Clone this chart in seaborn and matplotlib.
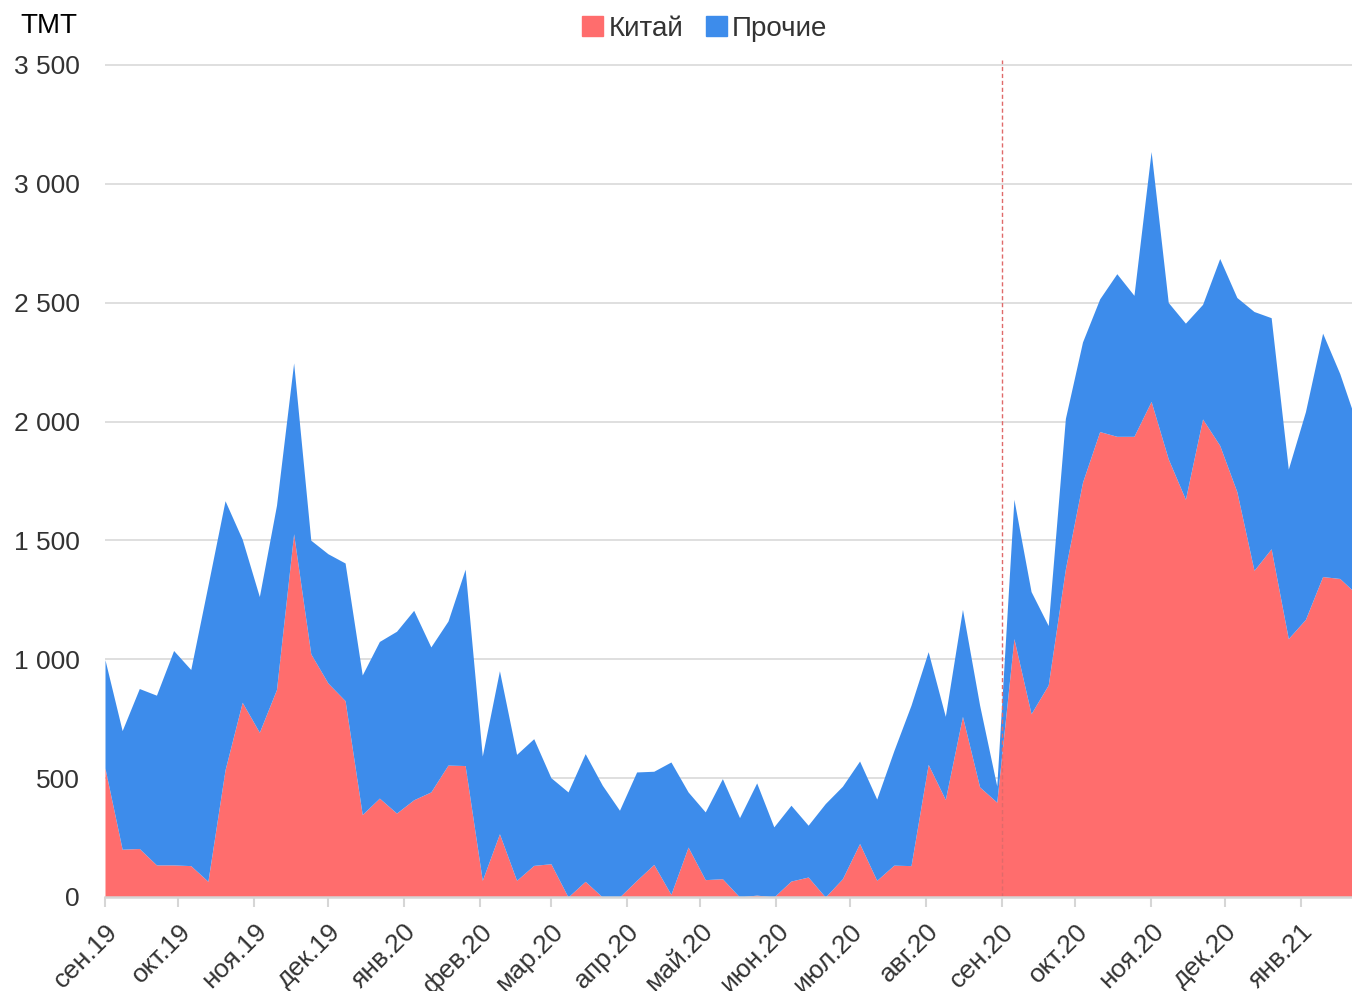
import matplotlib
matplotlib.use("Agg")
import matplotlib.pyplot as plt
from matplotlib.patches import Patch
from matplotlib.ticker import FuncFormatter
import seaborn as sns
import numpy as np
import pandas as pd

# weekly totals, thousand tonnes
total = [998, 700, 877, 849, 1037, 957, 1310, 1667, 1505, 1264,
         1648, 2247, 1501, 1444, 1405, 934, 1075, 1118, 1206, 1052,
         1161, 1379, 593, 952, 600, 666, 502, 442, 603, 470,
         365, 526, 529, 568, 442, 358, 498, 334, 480, 295,
         386, 302, 393, 466, 572, 412, 616, 807, 1032, 760,
         1210, 807, 467, 1673, 1285, 1142, 2013, 2335, 2516, 2622,
         2531, 3136, 2501, 2414, 2493, 2686, 2522, 2463, 2437, 1800,
         2042, 2372, 2202, 1990]
china = [542, 201, 204, 135, 135, 132, 66, 535, 819, 693,
         873, 1528, 1023, 900, 826, 347, 416, 353, 409, 442,
         555, 553, 70, 266, 70, 133, 140, 0, 66, 0,
         0, 70, 137, 11, 210, 73, 77, 0, 8, 0,
         67, 84, 0, 77, 225, 70, 134, 132, 558, 410,
         760, 463, 399, 1087, 771, 892, 1380, 1745, 1958, 1938,
         1938, 2085, 1843, 1673, 2011, 1900, 1705, 1374, 1465, 1087,
         1168, 1348, 1340, 1273]
month_labels = ['сен.19', 'окт.19', 'ноя.19', 'дек.19', 'янв.20', 'фев.20',
                'мар.20', 'апр.20', 'май.20', 'июн.20', 'июл.20', 'авг.20',
                'сен.20', 'окт.20', 'ноя.20', 'дек.20', 'янв.21']
series_names = ['Китай', 'Прочие']
colors = ['#ff6d6d', '#3d8ceb']

dates = pd.date_range('2019-09-01', periods=len(total), freq='7D')
df = pd.DataFrame({'date': dates, 'china': china, 'total': total})
df['other'] = df['total'] - df['china']

sns.set_theme(style='white')
plt.rcParams['font.family'] = ['Liberation Sans', 'DejaVu Sans']

fig = plt.figure(figsize=(13.52, 9.91), dpi=100)
ax = fig.add_axes([105 / 1352, 94 / 991, 1247 / 1352, 837 / 991])

ax.stackplot(df['date'], df['china'], df['other'], colors=colors,
             linewidth=0, zorder=2)

ax.set_ylim(0, 3521)
ax.set_xlim(pd.Timestamp('2019-09-01'), pd.Timestamp('2021-01-22'))
ax.set_yticks(np.arange(0, 3501, 500))
ax.yaxis.set_major_formatter(FuncFormatter(lambda v, p: f'{v:,.0f}'.replace(',', ' ')))
ax.grid(axis='y', color='#d9d9d9', linewidth=1.2, zorder=0)
ax.grid(axis='x', visible=False)
ax.set_axisbelow(True)

ticks = pd.date_range('2019-09-01', periods=len(month_labels), freq='MS')
ax.set_xticks(ticks)
ax.set_xticklabels(month_labels, rotation=45, ha='right', rotation_mode='anchor')

for s in ['top', 'right', 'left']:
    ax.spines[s].set_visible(False)
ax.spines['bottom'].set_color('#d6d6d6')
ax.spines['bottom'].set_linewidth(1.8)
ax.spines['bottom'].set_zorder(3)

ax.tick_params(axis='y', length=0, pad=18, labelsize=19, labelcolor='#333333')
ax.tick_params(axis='x', length=7, width=1.5, color='#d6d6d6', pad=9,
               labelsize=19, labelcolor='#333333', bottom=True)

ax.axvline(pd.Timestamp('2020-09-01'), color='#e06a6a', linewidth=1,
           linestyle=(0, (3, 2)), zorder=3)

fig.text(20 / 1352, 1 - 26 / 991, 'ТМТ', fontsize=20, color='black', va='center')

handles = [Patch(color=c, label=n) for c, n in zip(colors, series_names)]
fig.legend(handles=handles, loc='center', bbox_to_anchor=(705 / 1352, 1 - 29 / 991),
           ncol=2, frameon=False, fontsize=20, handlelength=0.75, handleheight=0.75,
           handletextpad=0.2, columnspacing=0.8, labelcolor='#333333')

fig.savefig('out.png', dpi=100)
